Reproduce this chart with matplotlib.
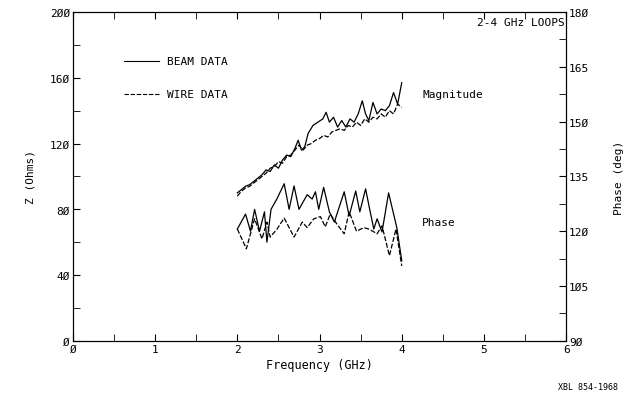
import numpy as np
import matplotlib
matplotlib.use("Agg")
from matplotlib import pyplot as plt
from matplotlib.ticker import MultipleLocator

# magnitude (ohms)
beam_mag_f = [2.00, 2.05, 2.10, 2.15, 2.20, 2.25, 2.30, 2.35, 2.40, 2.45, 2.50, 2.55, 2.60, 2.65,
              2.70, 2.74, 2.78, 2.82, 2.86, 2.92, 2.98, 3.04, 3.08, 3.12, 3.17, 3.22, 3.27, 3.32,
              3.37, 3.42, 3.47, 3.52, 3.56, 3.60, 3.65, 3.70, 3.75, 3.80, 3.85, 3.90, 3.95, 4.00]
beam_mag = [90, 92, 94, 95, 97, 99, 101, 104, 103, 107, 105, 110, 113, 112,
            117, 122, 116, 118, 126, 131, 133, 135, 139, 133, 136, 130, 134, 130,
            135, 133, 138, 146, 138, 134, 145, 138, 141, 140, 143, 151, 144, 157]

wire_mag_f = [2.00, 2.05, 2.10, 2.15, 2.20, 2.25, 2.30, 2.35, 2.40, 2.45, 2.50, 2.55, 2.60, 2.65,
              2.70, 2.75, 2.80, 2.85, 2.90, 2.95, 3.00, 3.05, 3.10, 3.15, 3.20, 3.25, 3.30, 3.35,
              3.40, 3.45, 3.50, 3.55, 3.60, 3.65, 3.70, 3.75, 3.80, 3.85, 3.90, 3.95, 4.00]
wire_mag = [88, 91, 93, 94, 96, 98, 100, 102, 105, 106, 109, 108, 112, 113,
            116, 119, 116, 119, 120, 122, 123, 125, 124, 127, 128, 129, 128, 131,
            130, 133, 131, 135, 133, 136, 135, 138, 136, 140, 138, 144, 142]

# phase (deg)
beam_ph_f = [2.00, 2.10, 2.16, 2.21, 2.27, 2.33, 2.36, 2.41, 2.48, 2.57, 2.63, 2.69, 2.75, 2.85,
             2.91, 2.95, 2.99, 3.05, 3.12, 3.18, 3.30, 3.36, 3.44, 3.49, 3.56, 3.61, 3.66, 3.70,
             3.76, 3.84, 3.94, 4.00]
beam_ph = [120.6, 124.7, 120.0, 126.0, 120.0, 125.3, 117.0, 126.0, 128.8, 133.0, 126.0, 132.4,
           126.0, 130.0, 128.8, 130.8, 126.0, 132.0, 125.3, 122.5, 130.8, 124.2, 131.0, 125.3,
           131.6, 126.0, 120.6, 123.4, 119.8, 130.5, 121.0, 111.9]

wire_ph_f = [2.00, 2.11, 2.21, 2.30, 2.36, 2.40, 2.48, 2.57, 2.69, 2.79, 2.85, 2.93, 3.01, 3.07,
             3.13, 3.21, 3.30, 3.36, 3.45, 3.54, 3.61, 3.70, 3.76, 3.85, 3.93, 4.00]
wire_ph = [120.6, 115.2, 123.4, 117.9, 122.5, 118.4, 120.5, 123.6, 118.4, 122.5, 121.0, 123.4,
           124.0, 121.2, 124.7, 122.0, 119.3, 125.3, 120.0, 121.0, 120.5, 119.3, 121.5, 113.3,
           120.6, 110.5]

plt.rcParams['font.family'] = ['DejaVu Sans Mono']
dash = (0, (4, 1.5))

fig = plt.figure(figsize=(6.34, 4.06), dpi=100)
ax = fig.add_axes([0.115, 0.158, 0.778, 0.81])
ax2 = ax.twinx()

ax.plot(beam_mag_f, beam_mag, color='black', lw=0.9)
ax.plot(wire_mag_f, wire_mag, color='black', lw=0.9, ls=dash)
ax2.plot(beam_ph_f, beam_ph, color='black', lw=0.9)
ax2.plot(wire_ph_f, wire_ph, color='black', lw=0.9, ls=dash)

ax.set_xlim(0, 6)
ax.set_ylim(0, 200)
ax2.set_ylim(90, 180)
ax.xaxis.set_major_locator(MultipleLocator(1))
ax.xaxis.set_minor_locator(MultipleLocator(0.5))
ax.yaxis.set_major_locator(MultipleLocator(40))
ax.yaxis.set_minor_locator(MultipleLocator(20))
ax2.yaxis.set_major_locator(MultipleLocator(15))
ax2.yaxis.set_minor_locator(MultipleLocator(7.5))

ax.tick_params(which='both', direction='in', top=True, labelsize=8, pad=2, length=5)
ax2.tick_params(which='both', direction='in', labelsize=8, length=5, pad=2)
zero = plt.FuncFormatter(lambda v, p: f"{int(v)}".replace('0', 'Ø'))
ax.xaxis.set_major_formatter(zero)
ax.yaxis.set_major_formatter(zero)
ax2.yaxis.set_major_formatter(zero)

ax.set_xlabel('Frequency (GHz)', fontsize=8.5, labelpad=3)
ax.set_ylabel('Z (Ohms)', fontsize=8, labelpad=10)
ax2.set_ylabel('Phase (deg)', fontsize=8, labelpad=18)

# legend drawn as plotter-style text
ax.plot([0.62, 1.05], [170, 170], color='black', lw=0.8)
ax.plot([0.62, 1.05], [150, 150], color='black', lw=0.8, ls=dash)
ax.text(1.15, 170, 'BEAM DATA', fontsize=8, va='center')
ax.text(1.15, 150, 'WIRE DATA', fontsize=8, va='center')

ax.text(4.25, 150, 'Magnitude', fontsize=8, va='center')
ax.text(4.25, 72, 'Phase', fontsize=8, va='center')
ax.text(5.98, 194, '2-4 GHz LOOPS', fontsize=8, ha='right', va='center')

fig.text(0.975, 0.045, 'XBL 854-1968', fontsize=6, ha='right', va='center')

fig.savefig('out.png', dpi=100)
